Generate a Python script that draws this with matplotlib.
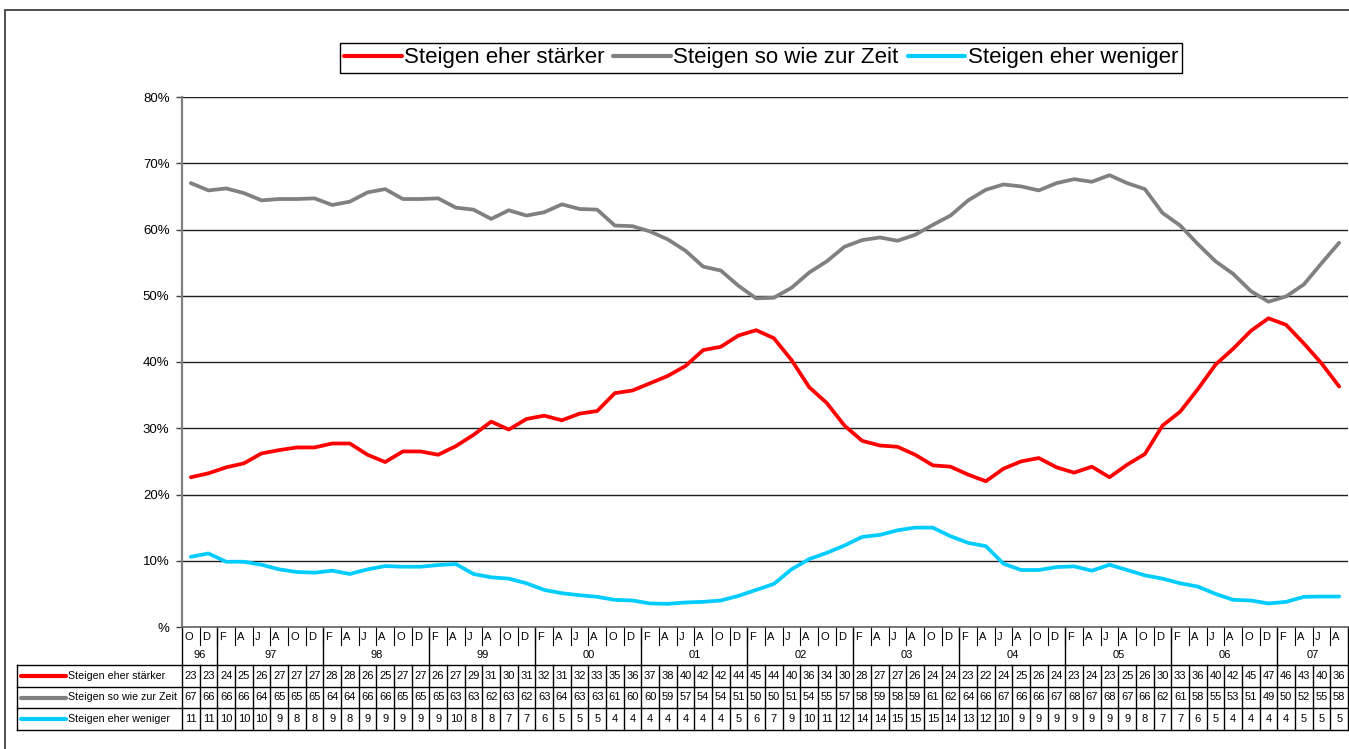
import matplotlib.pyplot as plt
from matplotlib.patches import Rectangle
from matplotlib.lines import Line2D

plt.rcParams['font.family'] = ['Liberation Sans', 'DejaVu Sans']

series_names = ["Steigen eher stärker", "Steigen so wie zur Zeit", "Steigen eher weniger"]
colors = ["#FF0000", "#808080", "#00CCFF"]

# survey months (O 96 ... A 07) and year groups
months = ["O", "D",
          "F", "A", "J", "A", "O", "D",  # 97
          "F", "A", "J", "A", "O", "D",  # 98
          "F", "A", "J", "A", "O", "D",  # 99
          "F", "A", "J", "A", "O", "D",  # 00
          "F", "A", "J", "A", "O", "D",  # 01
          "F", "A", "J", "A", "O", "D",  # 02
          "F", "A", "J", "A", "O", "D",  # 03
          "F", "A", "J", "A", "O", "D",  # 04
          "F", "A", "J", "A", "O", "D",  # 05
          "F", "A", "J", "A", "O", "D",  # 06
          "F", "A", "J", "A"]            # 07
years = ["96", "97", "98", "99", "00", "01", "02", "03", "04", "05", "06", "07"]
year_len = [2, 6, 6, 6, 6, 6, 6, 6, 6, 6, 6, 4]

# plotted lines (percent)
staerker = [22.6, 23.2, 24.1, 24.7, 26.2, 26.7, 27.1, 27.1, 27.7, 27.7,
            26.0, 24.9, 26.5, 26.5, 26.0, 27.3, 29.0, 31.0, 29.8, 31.4,
            31.9, 31.2, 32.2, 32.6, 35.3, 35.7, 36.8, 37.9, 39.4, 41.8,
            42.3, 44.0, 44.8, 43.6, 40.3, 36.2, 33.8, 30.4, 28.1, 27.4,
            27.2, 26.0, 24.4, 24.2, 23.0, 22.0, 23.9, 25.0, 25.5, 24.1,
            23.3, 24.2, 22.6, 24.5, 26.1, 30.4, 32.5, 35.9, 39.6, 42.0,
            44.7, 46.6, 45.6, 42.8, 39.8, 36.3]
so_wie = [67.0, 65.9, 66.2, 65.5, 64.4, 64.6, 64.6, 64.7, 63.7, 64.2,
          65.6, 66.1, 64.6, 64.6, 64.7, 63.3, 63.0, 61.6, 62.9, 62.1,
          62.6, 63.8, 63.1, 63.0, 60.6, 60.5, 59.7, 58.5, 56.8, 54.4,
          53.8, 51.5, 49.6, 49.7, 51.2, 53.5, 55.2, 57.4, 58.4, 58.8,
          58.3, 59.2, 60.7, 62.1, 64.4, 66.0, 66.8, 66.5, 65.9, 67.0,
          67.6, 67.2, 68.2, 67.0, 66.1, 62.5, 60.6, 57.8, 55.2, 53.3,
          50.7, 49.1, 49.9, 51.7, 54.9, 58.0]
weniger = [10.6, 11.1, 9.85, 9.85, 9.4, 8.7, 8.3, 8.2, 8.5, 8.0,
           8.7, 9.2, 9.1, 9.1, 9.35, 9.5, 8.0, 7.5, 7.3, 6.6,
           5.6, 5.1, 4.8, 4.55, 4.1, 4.0, 3.55, 3.5, 3.7, 3.8,
           4.0, 4.7, 5.6, 6.5, 8.7, 10.25, 11.2, 12.3, 13.6, 13.9,
           14.6, 15.0, 15.0, 13.7, 12.7, 12.2, 9.55, 8.6, 8.6, 9.05,
           9.15, 8.5, 9.4, 8.6, 7.8, 7.3, 6.6, 6.1, 5.0, 4.1,
           4.0, 3.55, 3.8, 4.55, 4.6, 4.6]

# rounded values shown in the data table
tab_staerker = [23, 23, 24, 25, 26, 27, 27, 27, 28, 28, 26, 25, 27, 27,
                26, 27, 29, 31, 30, 31, 32, 31, 32, 33, 35, 36, 37, 38, 40, 42, 42, 44,
                45, 44, 40, 36, 34, 30, 28, 27, 27, 26, 24, 24, 23, 22, 24, 25, 26, 24,
                23, 24, 23, 25, 26, 30, 33, 36, 40, 42, 45, 47, 46, 43, 40, 36]
tab_so_wie = [67, 66, 66, 66, 64, 65, 65, 65, 64, 64, 66, 66, 65, 65,
              65, 63, 63, 62, 63, 62, 63, 64, 63, 63, 61, 60, 60, 59, 57, 54, 54, 51,
              50, 50, 51, 54, 55, 57, 58, 59, 58, 59, 61, 62, 64, 66, 67, 66, 66, 67,
              68, 67, 68, 67, 66, 62, 61, 58, 55, 53, 51, 49, 50, 52, 55, 58]
tab_weniger = [11, 11, 10, 10, 10, 9, 8, 8, 9, 8, 9, 9, 9, 9,
               9, 10, 8, 8, 7, 7, 6, 5, 5, 5, 4, 4, 4, 4, 4, 4, 4, 5,
               6, 7, 9, 10, 11, 12, 14, 14, 15, 15, 15, 14, 13, 12, 10, 9, 9, 9,
               9, 9, 9, 9, 8, 7, 7, 6, 5, 4, 4, 4, 4, 5, 5, 5]

yticks = [0, 10, 20, 30, 40, 50, 60, 70, 80]
ytick_labels = ["%", "10%", "20%", "30%", "40%", "50%", "60%", "70%", "80%"]

W, H = 1349, 749
fig = plt.figure(figsize=(W / 100, H / 100), dpi=100)
# plot area in pixels: x 182..1348, y 97..627
ax = fig.add_axes([182 / W, 1 - 627 / H, 1166 / W, 530 / H])


def ay(py):
    # pixel row of the picture -> axes fraction
    return (627 - py) / 530


def axx(px):
    return (px - 182) / 1166


n = len(months)
x = list(range(n))
for vals, name, c in zip([staerker, so_wie, weniger], series_names, colors):
    ax.plot(x, vals, color=c, lw=2.7, label=name, solid_capstyle='round', zorder=3)

ax.set_xlim(-0.5, n - 0.5)
ax.set_ylim(0, 80)
ax.set_yticks(yticks)
ax.set_yticklabels(ytick_labels, fontsize=9.5)
ax.tick_params(axis='y', length=4, width=1, pad=5, color='#404040')
ax.set_xticks([])
for yv in yticks[1:]:
    ax.axhline(yv, color='#202020', lw=1, zorder=1)
for s in ['top', 'right']:
    ax.spines[s].set_visible(False)
ax.spines['left'].set_color('#808080')
ax.spines['left'].set_linewidth(1.6)
ax.spines['bottom'].set_color('#606060')
ax.spines['bottom'].set_linewidth(1.2)

tr = ax.get_xaxis_transform()
lc = 'black'
fs = 8

# month row
for i, m in enumerate(months):
    ax.text(i - 0.5 + 0.12, ay(636.5), m, transform=tr, fontsize=fs,
            ha='left', va='center', clip_on=False)
    ax.add_line(Line2D([i + 0.5, i + 0.5], [ay(627), ay(645)], transform=tr,
                       color=lc, lw=0.8, clip_on=False))

# year row
start = 0
bounds = [-0.5]
for yr, ln in zip(years, year_len):
    ax.text(start + (ln - 1) / 2, ay(655.5), yr, transform=tr, fontsize=fs,
            ha='center', va='center', clip_on=False)
    start += ln
    bounds.append(start - 0.5)
for b in bounds:
    ax.add_line(Line2D([b, b], [ay(627), ay(665)], transform=tr,
                       color=lc, lw=1, clip_on=False))

# data table
row_tops = [665, 687, 708, 730]
for py in row_tops:
    ax.add_line(Line2D([axx(17), 1], [ay(py), ay(py)], transform=ax.transAxes,
                       color=lc, lw=1, clip_on=False))
ax.add_line(Line2D([axx(17), axx(17)], [ay(665), ay(730)], transform=ax.transAxes,
                   color=lc, lw=1, clip_on=False))
for i in range(n + 1):
    ax.add_line(Line2D([i - 0.5, i - 0.5], [ay(665), ay(730)], transform=tr,
                       color=lc, lw=1, clip_on=False))

tables = [tab_staerker, tab_so_wie, tab_weniger]
for r, (vals, name, c) in enumerate(zip(tables, series_names, colors)):
    yc = ay((row_tops[r] + row_tops[r + 1]) / 2)
    ax.add_line(Line2D([axx(21), axx(66)], [yc, yc], transform=ax.transAxes,
                       color=c, lw=3, solid_capstyle='round', clip_on=False))
    ax.text(axx(68), yc, name, transform=ax.transAxes, fontsize=7.7,
            ha='left', va='center', clip_on=False)
    for i, v in enumerate(vals):
        ax.text(i, yc, str(v), transform=tr, fontsize=fs,
                ha='center', va='center', clip_on=False)

leg = fig.legend(loc='center', bbox_to_anchor=(761 / W, 1 - 58 / H), ncol=3,
                 fontsize=16, handlelength=2.6, handletextpad=0.1,
                 columnspacing=0.4, borderpad=0.2, fancybox=False,
                 edgecolor='black', framealpha=1)
leg.get_frame().set_linewidth(1)
for h in leg.get_lines():
    h.set_linewidth(3)

# outer chart border
fig.add_artist(Rectangle((5 / W, -0.1), 1.2, 1.1 - 10 / H, transform=fig.transFigure,
                         fill=False, ec='#303030', lw=1.2))

fig.savefig("out.png", dpi=100)
